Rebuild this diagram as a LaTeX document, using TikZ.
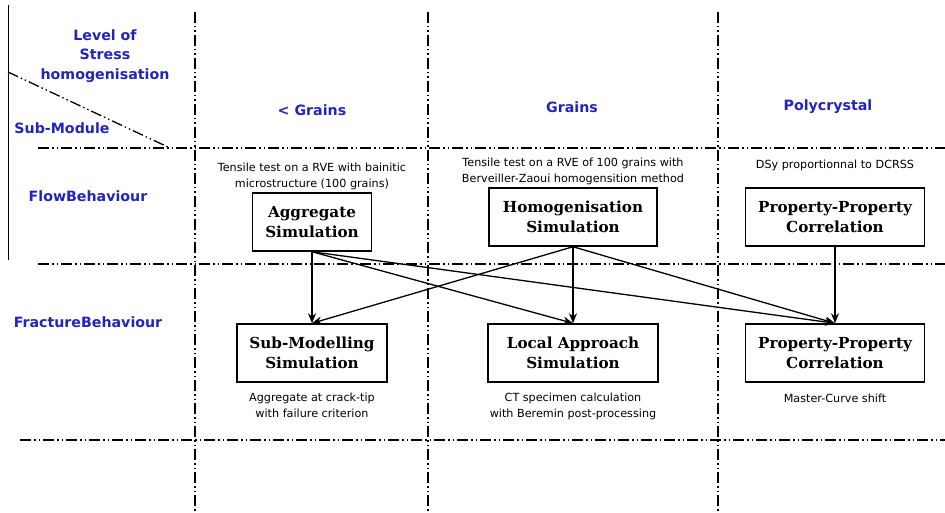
\documentclass[tikz,border=0pt]{standalone}
\usepackage{fontspec}
\setmainfont{DejaVu Sans}
\newfontfamily\boxfont{DejaVu Serif}
\usetikzlibrary{arrows.meta,positioning}
\definecolor{headblue}{RGB}{35,35,190}

\begin{document}
\begin{tikzpicture}[x=1pt, y=-1pt, thick,
        grid/.style={line width=1.6pt, dash pattern=on 11pt off 3pt on 1.5pt off 3pt on 1.5pt off 3pt},
        head/.style={text=headblue, font=\fontsize{14.2}{19.5}\selectfont\bfseries, align=center},
        sim/.style={rectangle, draw, line width=1.5pt, minimum height=58pt, align=center, font=\boxfont\fontsize{15.2}{19.5}\selectfont\bfseries},
        note/.style={font=\fontsize{11.2}{16}\selectfont, align=center},
        link/.style={-{Stealth[length=10pt,width=8pt]}, line width=1.3pt}]

        \useasboundingbox (0,0) rectangle (945,513);

        \draw [line width=0.8pt] (8,5) -- (8,260);
        \draw [grid, line width=1.3pt] (8,72) -- (170,148);
        \draw [grid] (38,148) -- (945,148);
        \draw [grid] (38,264) -- (945,264);
        \draw [grid] (20,440) -- (945,440);
        \foreach \xx in {195,428,718}
            \draw [grid] (\xx,12) -- (\xx,513);

        \node [head] (level) at (105,56) {Level of\\Stress\\homogenisation};
        \node [head] (submod) at (62,128) {Sub-Module};
        \node [head] (flow) at (88,196) {FlowBehaviour};
        \node [head] (frac) at (88,322) {FractureBehaviour};
        \node [head] (subgr) at (312,110) {< Grains};
        \node [head] (grains) at (572,107) {Grains};
        \node [head] (poly) at (828,107) {Polycrystal};

        \node [sim, minimum width=119pt] (agg) at (312,222) {Aggregate\\Simulation};
        \node [sim, minimum width=168pt] (homog) at (573,217) {Homogenisation\\Simulation};
        \node [sim, minimum width=179pt] (ppcflow) at (835,217) {Property-Property\\Correlation};
        \node [sim, minimum width=150pt] (submodel) at (312,353) {Sub-Modelling\\Simulation};
        \node [sim, minimum width=170pt] (local) at (573,353) {Local Approach\\Simulation};
        \node [sim, minimum width=179pt] (ppcfrac) at (835,353) {Property-Property\\Correlation};

        \node [note, above=-1pt of agg] (aggnote) {Tensile test on a RVE with bainitic\\microstructure (100 grains)};
        \node [note, above=-1pt of homog] (homognote) {Tensile test on a RVE of 100 grains with\\Berveiller-Zaoui homogensition method};
        \node [note, above=13pt of ppcflow] (ppcflownote) {DSy proportionnal to DCRSS};
        \node [note, below=7pt of submodel] (submodelnote) {Aggregate at crack-tip\\with failure criterion};
        \node [note, below=7pt of local] (localnote) {CT specimen calculation\\with Beremin post-processing};
        \node [note, below=8pt of ppcfrac] (ppcfracnote) {Master-Curve shift};

        \draw [link] (agg.south) -- (submodel.north);
        \draw [link] (agg.south) -- (local.north);
        \draw [link] (agg.south) -- (ppcfrac.north);
        \draw [link] (homog.south) -- (submodel.north);
        \draw [link] (homog.south) -- (local.north);
        \draw [link] (homog.south) -- (ppcfrac.north);
        \draw [link] (ppcflow.south) -- (ppcfrac.north);
    \end{tikzpicture}
\end{document}
